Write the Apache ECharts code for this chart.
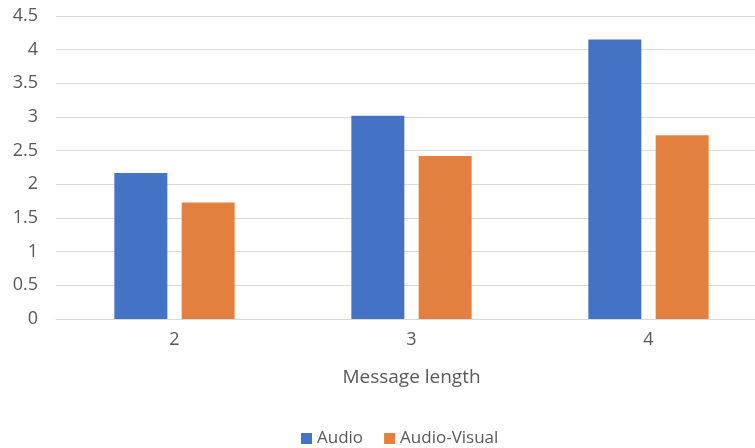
<!DOCTYPE html>
<html><head><meta charset="utf-8">
<script src="https://cdn.jsdelivr.net/npm/echarts@6/dist/echarts.min.js"></script>
<style>html,body{margin:0;padding:0;background:#fff}#c{width:755px;height:448px}</style>
</head><body><div id="c"></div>
<script>
const categories = ['2', '3', '4'];
const audio = [2.17, 3.02, 4.15];
const audioVisual = [1.73, 2.42, 2.73];
const yTicks = [0, 0.5, 1, 1.5, 2, 2.5, 3, 3.5, 4, 4.5];

const chart = echarts.init(document.getElementById('c'));
const font = '"Open Sans", "Noto Sans", sans-serif';
chart.setOption({
  animation: false,
  grid: { left: 56, width: 711, top: 16, height: 303, outerBoundsMode: 'none', containLabel: false },
  legend: {
    top: 425, left: 296, itemWidth: 11, itemHeight: 11, itemGap: 21,
    icon: 'rect',
    textStyle: { color: '#595959', fontSize: 17, fontFamily: font },
    data: ['Audio', 'Audio-Visual']
  },
  xAxis: {
    type: 'category', data: categories,
    name: 'Message length', nameLocation: 'middle', nameGap: 49,
    nameTextStyle: { color: '#595959', fontSize: 19, fontFamily: font },
    axisLine: { lineStyle: { color: '#d9d9d9' } },
    axisTick: { show: false },
    axisLabel: { color: '#595959', fontSize: 18, fontFamily: font, margin: 12 }
  },
  yAxis: {
    type: 'value', min: 0, max: 4.5, interval: 0.5,
    axisLabel: { color: '#595959', fontSize: 18, fontFamily: font, margin: 18,
      formatter: v => yTicks.includes(v) ? String(v) : '' },
    splitLine: { lineStyle: { color: '#d9d9d9' } },
    axisLine: { show: false }, axisTick: { show: false }
  },
  series: [
    { name: 'Audio', type: 'bar', data: audio, barWidth: 53, barGap: '27%',
      itemStyle: { color: '#4472C4' } },
    { name: 'Audio-Visual', type: 'bar', data: audioVisual, barWidth: 53,
      itemStyle: { color: '#E2813F' } }
  ]
});
</script></body></html>
